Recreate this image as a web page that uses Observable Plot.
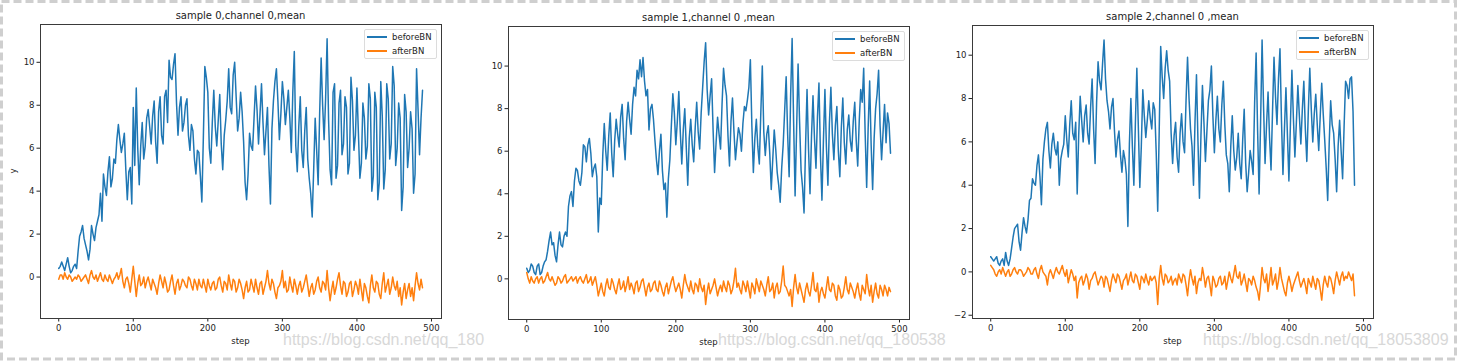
<!DOCTYPE html>
<html><head><meta charset="utf-8">
<script src="https://cdn.jsdelivr.net/npm/d3@7"></script>
<script src="https://cdn.jsdelivr.net/npm/@observablehq/plot@0.6"></script>
<style>
body{margin:0;background:#fff;font-family:"DejaVu Sans",sans-serif;}
#root{position:relative;width:1459px;height:361px;overflow:hidden;background:#fff;}
.abs{position:absolute;}
.title{position:absolute;font-size:10px;color:#222;white-space:nowrap;transform:translate(-50%,-50%);}
.xlab{position:absolute;font-size:8.5px;color:#222;white-space:nowrap;transform:translate(-50%,-50%);}
.ylab{position:absolute;font-size:8.5px;color:#222;white-space:nowrap;transform:translate(-50%,-50%) rotate(-90deg);}
.legend{position:absolute;border:1px solid #dcdcdc;border-radius:2px;background:rgba(255,255,255,0.85);box-sizing:border-box;}
.legend .ln{position:absolute;left:2px;width:20px;height:1.8px;}
.legend .tx{position:absolute;left:27px;font-size:8.5px;color:#222;transform:translateY(-50%);white-space:nowrap;}
.wm{position:absolute;font-family:"Liberation Sans",Arial,sans-serif;font-size:16px;color:#d8d8d8;white-space:nowrap;}
</style></head>
<body><div id="root"></div>
<script>
// ---- data ----
const titles = ["sample 0,channel 0,mean", "sample 1,channel 0 ,mean", "sample 2,channel 0 ,mean"];
const seriesNames = ["beforeBN", "afterBN"];
const xLabel = "step";
const yLabel = "y";
const xTicks = [0, 100, 200, 300, 400, 500];
const yTicksA = [0, 2, 4, 6, 8, 10];
const yTicksB = [-2, 0, 2, 4, 6, 8, 10];
const stepEvery = 2;
const watermarks = ["https://blog.csdn.net/qq_180", "https://blog.csdn.net/qq_180538", "https://blog.csdn.net/qq_18053809"];

// values at steps 0,4,8,... (even) and in-between values at steps 2,6,10,... (mid)
const before0 = [
 0.4,0.7,0.3,0.9,0.2,0.5,0.4,1.9,2.4,1.5,
 0.8,2.4,1.7,2.6,3.9,4.8,3.8,5.6,4.6,5.3,
 7.1,5.8,6.7,3.6,5.1,7.9,8.8,4.3,7.2,6.1,
 7.8,6.2,8.2,5.3,8.4,6.2,8.7,10.1,9.2,10.4,
 6.6,8.4,7.2,8.3,5.9,6.8,4.8,5.8,3.5,9.8,
 8.6,5.3,8.7,6.1,8.5,5.0,7.3,9.7,7.6,10.0,
 6.8,8.6,6.3,3.6,6.7,5.9,8.9,6.2,9.0,5.7,
 7.9,3.4,8.2,9.7,6.4,9.1,7.1,8.7,5.8,10.5,
 4.9,8.4,5.1,7.9,4.6,2.8,7.4,4.3,10.2,6.4,
 11.1,5.0,8.6,4.6,8.1,5.7,8.4,4.8,9.3,5.9,
 8.8,4.6,8.1,5.5,9.0,4.0,8.6,3.6,9.1,4.1,
 9.0,5.5,9.8,5.2,8.1,3.1,8.5,5.1,7.7,3.9,
 9.7,5.7,8.7];
const before0mid = [
 0.5,0.5,0.6,0.5,0.3,0.6,1.2,2.1,1.8,1.2,
 1.3,2.0,2.3,2.9,2.6,4.2,4.9,4.2,5.5,6.4,
 6.4,6.2,5.0,4.9,3.4,5.2,6.0,6.1,5.5,7.4,
 7.0,7.5,6.3,7.7,6.6,8.4,7.2,9.3,9.9,8.1,
 7.9,6.8,8.0,6.6,7.1,5.5,5.9,4.7,6.5,9.3,
 6.0,7.2,7.0,7.3,6.2,6.6,8.2,7.9,9.4,8.4,
 7.4,7.7,4.4,4.8,6.1,7.4,7.8,7.6,7.2,6.8,
 5.2,6.9,9.1,8.2,7.6,8.3,7.9,7.4,8.6,6.1,
 7.0,5.9,6.8,5.5,3.9,5.0,5.9,7.6,8.0,8.3,
 7.3,4.3,9.0,5.2,8.7,6.2,7.9,5.3,8.2,6.6,
 6.7,5.3,7.4,6.1,8.3,4.7,7.9,4.4,7.5,5.0,
 8.3,6.2,8.9,6.0,7.4,4.2,7.7,6.0,6.9,4.8,
 7.8,7.4];
const after0 = [
 -0.1,0.1,0.2,-0.1,0.0,-0.1,-0.1,0.0,-0.1,0.1,
 -0.3,0.3,-0.1,-0.2,0.2,-0.2,-0.1,0.1,-0.3,0.0,
 -0.1,0.4,-0.5,0.0,-0.7,0.5,-0.9,0.1,-0.3,-0.5,
 0.0,-0.6,-0.3,-0.8,0.1,-0.5,-0.3,-0.6,0.1,-0.8,
 -0.1,-0.4,-0.2,-0.5,-0.1,-0.6,-0.3,-0.1,-0.5,-0.4,
 -0.1,-0.6,-0.2,-0.5,0.0,-0.7,-0.3,0.1,-0.6,-0.2,
 -0.5,-0.3,-1.0,-0.2,-0.6,-0.4,-0.1,-0.8,-0.2,-0.5,
 0.3,-0.6,-0.3,-1.0,-0.4,0.3,-0.2,-0.6,-0.4,-0.1,
 -0.8,-0.2,-0.5,0.1,-0.9,-0.3,-0.6,0.0,-0.7,-0.3,
 0.3,-1.1,-0.2,-0.5,0.2,-0.8,-0.3,-0.7,-0.2,-0.6,
 -0.4,-0.1,-1.1,-0.5,-1.2,0.1,-0.7,-0.3,-1.0,0.2,
 -0.4,-0.8,0.0,-0.6,-0.9,-1.3,-0.3,-0.6,-0.9,-1.1,
 0.2,-0.6,-0.5];
const after0mid = [
 0.1,-0.1,0.0,0.1,-0.2,0.0,0.1,-0.2,0.0,-0.1,
 0.1,0.0,0.1,0.0,-0.1,0.1,-0.2,-0.1,-0.1,0.2,
 0.1,-0.2,-0.1,-0.3,-0.1,-0.2,-0.3,-0.4,0.0,-0.2,
 -0.3,-0.1,-0.5,-0.3,-0.2,0.0,-0.7,-0.2,-0.4,-0.3,
 -0.6,-0.1,-0.4,0.0,-0.4,-0.1,-0.6,-0.4,-0.1,-0.7,
 -0.4,-0.3,-0.6,-0.1,-0.4,-0.2,-0.6,-0.3,-0.1,-0.7,
 -0.1,-0.6,-0.5,-0.7,-0.1,-0.7,-0.5,-0.3,-0.8,-0.2,
 -0.3,-0.1,-0.7,-0.5,-0.2,-0.5,-0.7,0.0,-0.7,-0.4,
 -0.4,-0.7,-0.2,-0.4,-0.5,-0.8,-0.2,-0.5,-0.2,-0.6,
 -0.5,-0.6,-0.8,-0.1,-0.4,-0.2,-0.9,-0.3,-0.9,-0.2,
 -0.8,-0.6,-0.3,-0.9,-0.4,-0.5,-0.2,-0.8,-0.3,-0.7,
 -0.1,-0.5,-0.4,-0.2,-0.5,-0.7,-1.0,-0.3,-0.5,-0.4,
 -0.3,-0.1];
const before1 = [
 0.5,0.4,0.6,0.2,0.7,0.3,0.8,1.3,2.2,1.7,
 0.8,2.2,1.5,2.2,3.4,4.1,4.6,5.1,4.4,6.3,
 5.5,6.6,4.8,5.4,2.2,3.5,7.3,5.1,7.8,4.8,
 7.5,6.2,8.2,5.6,8.3,6.8,9.0,9.8,10.3,10.4,
 8.6,7.0,8.2,6.5,4.9,6.8,4.2,2.9,5.6,8.7,
 6.3,8.8,5.4,8.0,4.4,7.5,5.5,8.3,6.1,9.0,
 11.1,7.7,9.4,5.0,7.6,6.1,9.9,8.6,5.3,8.5,
 5.6,7.1,6.0,8.1,8.4,10.3,5.0,7.5,5.4,10.0,
 5.8,7.2,4.2,7.0,5.0,3.6,6.3,9.5,4.8,11.3,
 3.9,10.1,5.1,3.1,8.9,4.0,8.6,5.2,9.2,3.7,
 8.9,4.4,9.0,5.6,8.1,4.8,8.5,5.4,7.7,6.0,
 8.3,5.3,8.9,9.9,4.3,9.3,4.2,8.0,9.8,5.6,
 8.2,7.8,5.9];
const before1mid = [
 0.3,0.7,0.3,0.6,0.2,0.6,0.9,1.8,1.6,1.1,
 1.6,1.6,2.0,2.0,3.9,3.4,5.2,4.6,5.0,6.2,
 6.3,5.9,5.2,4.8,3.8,5.8,6.0,6.7,5.9,6.5,
 6.8,7.6,6.6,7.4,7.5,8.2,8.6,9.4,9.5,9.3,
 8.9,8.0,7.5,5.6,6.0,5.1,4.5,4.7,7.2,7.8,
 7.4,6.9,7.0,6.2,6.6,6.3,7.1,6.9,7.8,10.2,
 8.9,8.6,7.0,6.4,6.8,8.2,9.1,6.7,7.4,6.9,
 6.4,6.8,7.3,7.9,9.0,7.2,6.6,6.2,7.8,6.9,
 6.8,5.9,5.6,6.1,4.4,5.2,7.9,6.8,8.6,7.4,
 7.0,7.4,4.3,6.2,6.1,6.7,6.6,7.6,5.8,6.5,
 6.2,7.3,6.8,7.2,6.0,7.1,6.4,7.0,6.5,7.4,
 6.5,7.4,8.3,6.8,7.1,6.3,6.6,8.7,7.2,6.9,
 6.4,7.3];
const after1 = [
 0.3,-0.2,-0.1,0.0,-0.2,0.1,-0.1,0.3,-0.1,-0.1,
 -0.2,0.0,-0.1,0.2,-0.1,0.1,0.0,-0.2,0.1,-0.2,
 0.2,-0.1,-0.3,0.1,-0.8,-0.2,-0.8,0.0,-0.5,-0.2,
 -0.7,0.0,-0.4,-0.6,0.1,-0.2,-0.7,-0.1,-0.4,0.0,
 -0.8,-0.2,-0.5,-0.1,-0.6,-0.3,-0.8,-0.2,-0.4,0.1,
 -0.6,-0.2,-0.9,0.2,-0.4,-0.1,-0.7,-0.3,0.0,-0.6,
 -1.2,-0.2,-0.5,0.0,-0.8,-0.3,-0.1,-0.6,-0.3,-0.5,
 0.5,-0.2,-0.7,-0.3,-0.1,-0.9,-0.4,0.0,-0.6,-0.3,
 -0.8,0.1,-0.5,-0.9,-0.2,-0.6,0.6,-0.4,-0.8,-1.3,
 0.2,-0.7,-0.5,-1.1,-0.2,-0.8,0.3,-0.6,-1.1,-0.4,
 -0.9,0.1,-0.6,-0.3,-1.0,-0.5,-0.8,0.1,-0.7,-0.4,
 -0.9,-0.2,-1.0,-0.5,0.2,-0.8,-1.1,-0.2,-0.9,-0.5,
 -0.3,-0.8,-0.6];
const after1mid = [
 0.0,0.1,-0.2,0.1,0.0,-0.2,0.1,0.0,0.1,-0.3,
 0.1,-0.2,0.1,-0.2,0.0,-0.1,0.1,0.0,-0.1,0.0,
 -0.2,0.1,-0.1,-0.3,-0.5,-0.6,-0.3,-0.4,0.0,-0.5,
 -0.3,-0.5,-0.1,-0.3,-0.5,-0.4,-0.2,-0.6,-0.1,-0.4,
 -0.4,-0.6,-0.2,-0.5,-0.1,-0.6,-0.4,-0.7,-0.1,-0.3,
 -0.4,-0.5,-0.3,-0.2,-0.6,-0.5,-0.2,-0.6,-0.4,-0.3,
 -0.6,-0.7,-0.3,-0.4,-0.5,-0.6,-0.4,-0.1,-0.7,-0.1,
 -0.4,-0.5,-0.1,-0.6,-0.5,-0.2,-0.7,-0.3,-0.1,-0.5,
 -0.3,-0.6,-0.2,-0.4,-0.7,-0.1,-0.3,-0.6,-0.5,-0.4,
 -0.4,-0.2,-0.8,-0.5,-0.6,-0.3,-0.5,-0.2,-0.6,-0.7,
 -0.4,-0.5,-0.2,-0.8,-0.3,-0.9,-0.4,-0.5,-0.2,-0.6,
 -0.5,-0.7,-0.3,-0.7,-0.4,-0.3,-0.6,-0.7,-0.3,-0.8,
 -0.5,-0.4];
const before2 = [
 0.7,0.5,0.7,0.3,0.6,0.9,0.3,1.1,2.0,2.2,
 1.0,2.5,1.8,3.3,4.3,4.0,5.4,3.1,6.0,6.9,
 4.8,6.4,5.4,4.0,5.6,7.2,5.3,7.9,6.1,3.6,
 8.1,6.0,7.7,5.9,8.9,5.0,9.7,8.4,10.7,7.9,
 6.6,8.0,5.3,6.5,4.6,5.2,2.1,8.0,4.0,9.4,
 3.9,8.4,6.2,7.9,6.6,7.5,2.8,10.4,8.0,10.2,
 8.8,5.0,6.9,4.6,7.3,5.5,9.9,6.6,4.0,9.1,
 3.4,8.6,5.1,7.9,9.5,5.5,8.1,6.0,8.8,5.4,
 3.7,7.2,4.7,6.4,4.3,7.5,3.7,5.6,4.5,10.1,
 3.6,10.7,5.0,8.3,4.7,9.9,6.8,10.3,4.5,8.5,
 4.2,9.3,5.3,8.6,5.9,8.8,5.1,9.4,6.0,8.2,
 5.6,8.7,6.1,3.3,7.9,6.4,3.7,7.0,4.3,8.8,
 8.0,9.0,4.0];
const before2mid = [
 0.6,0.6,0.4,0.5,0.3,0.5,0.6,1.6,2.1,1.4,
 1.8,2.1,2.4,3.4,4.1,4.9,4.4,5.2,6.6,5.6,
 5.9,5.7,6.0,5.2,5.9,6.1,6.8,6.4,6.9,6.3,
 7.0,7.2,6.4,7.6,6.6,7.8,8.8,9.6,8.9,7.4,
 7.6,6.5,6.1,5.4,5.6,4.5,5.9,5.8,6.8,6.7,
 5.8,7.2,7.0,7.1,7.8,5.5,6.5,9.0,9.4,9.3,
 6.4,6.3,5.3,6.4,6.0,7.9,8.0,5.8,6.9,6.0,
 6.3,6.9,6.5,8.4,7.2,7.0,6.6,7.7,6.8,5.0,
 5.8,5.6,5.3,5.0,6.1,5.0,4.6,5.1,7.8,6.5,
 6.9,7.6,6.8,6.2,7.4,8.1,8.9,7.0,6.6,6.3,
 6.8,7.1,6.9,7.2,7.5,6.6,7.4,7.5,7.3,6.8,
 7.2,7.3,4.8,5.9,6.8,5.2,5.8,5.6,6.7,8.6,
 8.9,7.4];
const after2 = [
 0.3,0.1,-0.2,0.1,0.2,-0.2,0.1,-0.1,0.2,-0.1,
 0.1,-0.2,0.0,0.1,-0.1,0.2,-0.3,0.3,-0.1,-0.6,
 0.1,-0.3,0.2,-0.1,0.3,-0.2,-0.5,0.1,-0.4,-1.2,
 -0.3,-0.6,-0.1,-0.8,-0.3,0.0,-0.6,-0.2,-0.7,-0.3,
 -0.9,-0.1,-0.5,-0.2,-0.8,-0.3,-0.6,0.0,-0.5,-0.2,
 -0.8,-0.3,-0.1,-0.6,-0.4,-0.2,-1.5,0.3,-0.6,-0.2,
 -0.4,-0.6,-0.3,-0.1,-0.5,-0.2,-1.1,0.1,-0.6,-1.0,
 -0.3,0.2,-0.7,-0.2,-1.1,-0.4,-0.6,-0.2,-0.5,-0.8,
 0.0,-0.5,0.3,-0.3,-0.6,-0.1,-0.9,-0.4,-0.2,-0.7,
 -1.3,0.2,-0.5,-0.9,0.2,-0.4,-0.8,0.2,-0.6,-1.1,
 -0.2,-0.9,-0.4,0.0,-0.7,-0.3,-1.0,-0.5,-0.2,-0.8,
 -0.4,-1.3,-0.2,-0.7,-0.3,-1.0,0.0,-0.6,0.0,-0.2,
 0.0,-0.4,-1.1];
const after2mid = [
 0.2,-0.1,0.0,-0.1,0.0,0.0,-0.2,0.1,0.0,0.1,
 0.0,-0.1,0.2,-0.1,0.1,-0.1,0.1,0.0,-0.2,-0.1,
 -0.1,0.0,0.0,0.1,0.0,0.1,-0.2,-0.1,-0.2,-0.5,
 -0.2,-0.4,-0.3,-0.4,-0.1,-0.3,-0.4,-0.3,-0.2,-0.6,
 -0.4,-0.3,-0.1,-0.5,-0.4,-0.1,-0.3,-0.4,-0.1,-0.5,
 -0.2,-0.5,-0.4,-0.2,-0.3,-0.5,-0.3,-0.3,-0.1,-0.5,
 -0.2,-0.4,-0.6,-0.3,-0.1,-0.6,-0.4,-0.3,-0.2,-0.5,
 -0.4,-0.2,-0.3,-0.6,-0.2,-0.7,-0.3,-0.6,-0.2,-0.4,
 -0.3,-0.1,-0.2,0.0,-0.4,-0.5,-0.3,-0.6,-0.4,-0.9,
 -0.6,-0.3,-0.1,-0.4,-0.6,-0.1,-0.4,-0.3,-0.9,-0.5,
 -0.5,-0.6,-0.2,-0.4,-0.5,-0.6,-0.3,-0.7,-0.5,-0.3,
 -0.8,-0.6,-0.5,-0.2,-0.6,-0.4,-0.3,-0.2,-0.4,-0.3,
 -0.2,-0.1];

const colors = ["#1f77b4", "#ff7f0e"];

// interleave the two hand-read arrays into one sequence (step 0,2,4,...)
function weave(even, mid) {
  const out = [];
  even.forEach((v, i) => { out.push(v); if (i < mid.length) out.push(mid[i]); });
  return out;
}

// ---- layout ----
const panels = [
  {before: weave(before0, before0mid), after: weave(after0, after0mid), left: 0,   top: 24, bottom: 318, yDomain: [-1.93, 11.76], yTicks: yTicksA, ylab: true,  wmX: 283},
  {before: weave(before1, before1mid), after: weave(after1, after1mid), left: 468, top: 26, bottom: 319, yDomain: [-1.91, 11.86], yTicks: yTicksA, ylab: false, wmX: 718},
  {before: weave(before2, before2mid), after: weave(after2, after2mid), left: 932, top: 25, bottom: 318, yDomain: [-2.15, 11.37], yTicks: yTicksB, ylab: false, wmX: 1203}
];
const W = 461, H = 345, ML = 40, MR = 20;
const root = document.getElementById("root");

panels.forEach((p, k) => {
  const div = document.createElement("div");
  div.className = "abs";
  div.style.left = p.left + "px";
  div.style.top = "0px";
  const line = (arr, c) => Plot.lineY(arr, {x: (d, i) => i * stepEvery, y: d => d, stroke: c, strokeWidth: 1.5});
  const chart = Plot.plot({
    width: W, height: H,
    marginLeft: ML, marginRight: MR, marginTop: p.top, marginBottom: H - p.bottom,
    x: {domain: [-24.45, 513.45]},
    y: {domain: p.yDomain},
    style: {fontFamily: "DejaVu Sans", fontSize: "8.5px", color: "#222", background: "transparent", overflow: "visible"},
    marks: [
      line(p.before, colors[0]),
      line(p.after, colors[1]),
      Plot.axisX({ticks: xTicks, tickSize: 3.5, tickPadding: 2.5, label: null}),
      Plot.axisY({ticks: p.yTicks, tickSize: 3.5, tickPadding: 2.5, label: null}),
      Plot.frame({stroke: "#3a3a3a", strokeWidth: 1})
    ]
  });
  div.appendChild(chart);
  root.appendChild(div);

  const fl = p.left + ML, fr = p.left + W - MR, cx = (fl + fr) / 2;
  const t = document.createElement("div");
  t.className = "title"; t.textContent = titles[k];
  t.style.left = cx + "px"; t.style.top = (p.top - 9) + "px";
  root.appendChild(t);

  const xl = document.createElement("div");
  xl.className = "xlab"; xl.textContent = xLabel;
  xl.style.left = cx + "px"; xl.style.top = (p.bottom + 23) + "px";
  root.appendChild(xl);

  if (p.ylab) {
    const yl = document.createElement("div");
    yl.className = "ylab"; yl.textContent = yLabel;
    yl.style.left = (fl - 27) + "px"; yl.style.top = ((p.top + p.bottom) / 2) + "px";
    root.appendChild(yl);
  }

  const lg = document.createElement("div");
  lg.className = "legend";
  lg.style.left = (fr - 4 - 73) + "px"; lg.style.top = (p.top + 5) + "px";
  lg.style.width = "73px"; lg.style.height = "30px";
  seriesNames.forEach((n, j) => {
    const yy = 7 + j * 14;
    const l = document.createElement("div"); l.className = "ln";
    l.style.top = (yy - 1) + "px"; l.style.background = colors[j];
    const tx = document.createElement("div"); tx.className = "tx";
    tx.style.top = yy + "px"; tx.textContent = n;
    lg.appendChild(l); lg.appendChild(tx);
  });
  root.appendChild(lg);

  const wm = document.createElement("div");
  wm.className = "wm"; wm.textContent = watermarks[k];
  wm.style.left = p.wmX + "px";
  wm.style.top = "331px";
  root.appendChild(wm);
});

// dashed outer border
const ns = "http://www.w3.org/2000/svg";
const bsvg = document.createElementNS(ns, "svg");
bsvg.setAttribute("width", 1459); bsvg.setAttribute("height", 361);
bsvg.style.position = "absolute"; bsvg.style.left = "0"; bsvg.style.top = "0"; bsvg.style.pointerEvents = "none";
const r = document.createElementNS(ns, "rect");
r.setAttribute("x", 1.5); r.setAttribute("y", 1.5); r.setAttribute("width", 1454); r.setAttribute("height", 357.5);
r.setAttribute("fill", "none"); r.setAttribute("stroke", "#cfcfcf"); r.setAttribute("stroke-width", 3);
r.setAttribute("stroke-dasharray", "8 4");
bsvg.appendChild(r);
root.appendChild(bsvg);
</script>
</body></html>
